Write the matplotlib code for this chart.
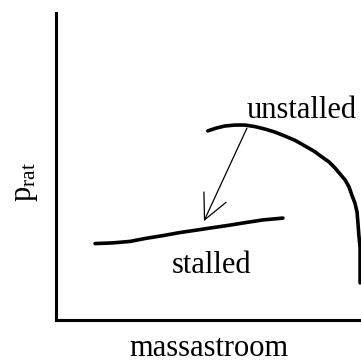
import matplotlib
matplotlib.use('Agg')
import matplotlib.pyplot as plt
from matplotlib.patches import FancyArrowPatch

plt.rcParams['font.family'] = ['Liberation Serif', 'DejaVu Serif']
plt.rcParams['mathtext.fontset'] = 'custom'
plt.rcParams['mathtext.rm'] = 'Liberation Serif'
plt.rcParams['mathtext.it'] = 'Liberation Serif:italic'

# compressor characteristic (arbitrary units, 0-100)
unstalled_flow = [49.8, 52.5, 55.4, 58.7, 62.0, 65.2, 68.5, 71.8, 75.1, 78.4, 81.6, 84.6, 87.2,
                  89.5, 91.5, 93.1, 94.8, 96.1, 97.0, 98.0, 98.7, 99.0, 99.3, 99.7, 99.7, 99.7]
unstalled_prat = [61.6, 62.5, 63.2, 63.5, 63.5, 63.0, 62.2, 61.2, 59.9, 58.5, 56.7, 55.0, 53.1,
                  51.5, 49.5, 47.6, 45.6, 43.3, 40.7, 38.1, 35.2, 31.6, 27.7, 23.5, 19.5, 12.1]

stalled_flow = [12.8, 18.4, 24.3, 29.5, 35.1, 40.7, 46.2, 51.5, 57.0, 62.6, 67.9, 74.4]
stalled_prat = [24.9, 25.1, 25.6, 26.6, 27.5, 28.5, 29.3, 30.1, 30.9, 31.8, 32.6, 33.2]

arrow_from = (62.6, 62.5)
arrow_to = (48.5, 32.2)

fig = plt.figure(figsize=(3.61, 3.63), dpi=100)
ax = fig.add_axes([56 / 361, 43 / 363, 305 / 361, 307 / 363])
ax.set_xlim(0, 100)
ax.set_ylim(0, 100)

ax.plot(unstalled_flow, unstalled_prat, color='black', lw=2.6, clip_on=False,
        solid_capstyle='round', solid_joinstyle='round')
ax.plot(stalled_flow, stalled_prat, color='black', lw=2.6,
        solid_capstyle='round', solid_joinstyle='round')

arr = FancyArrowPatch(arrow_from, arrow_to, arrowstyle='->,head_length=0.9,head_width=0.44',
                      mutation_scale=20, color='black', lw=0.9, shrinkA=0, shrinkB=0)
ax.add_patch(arr)

ax.text(62.6, 65.8, 'unstalled', fontsize=22, ha='left', va='baseline')
ax.text(38.0, 15.3, 'stalled', fontsize=22, ha='left', va='baseline')

for s in ['top', 'right']:
    ax.spines[s].set_visible(False)
for s in ['left', 'bottom']:
    ax.spines[s].set_linewidth(2.2)
ax.set_xticks([])
ax.set_yticks([])

ax.set_xlabel('massastroom', fontsize=22, labelpad=10)
fig.text(25 / 361, 1 - 182 / 363, r'$\mathrm{p}_{\mathrm{rat}}$', fontsize=22,
         rotation=90, ha='center', va='center')

fig.savefig('out.png', dpi=100)
